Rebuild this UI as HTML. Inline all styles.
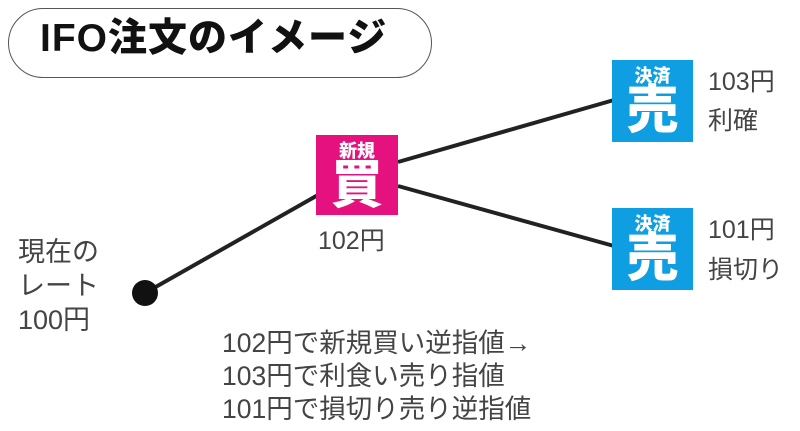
<!DOCTYPE html>
<html><head><meta charset="utf-8"><style>
body{margin:0;width:800px;height:431px;background:#fff;position:relative;overflow:hidden;font-family:"Liberation Sans","Noto Sans CJK JP",sans-serif;color:#444}
.t{position:absolute;white-space:nowrap;font-size:25px;line-height:1}
.pill{position:absolute;left:8px;top:8px;width:424px;height:70px;border:1.5px solid #555;border-radius:36px;box-sizing:border-box}
.title{position:absolute;left:40px;top:19px;font-weight:900;color:#111;letter-spacing:1px}
.box{position:absolute;color:#fff;text-align:center;font-weight:900}
.box .s{font-size:18px;margin-top:7px;line-height:1}
.box .b{font-size:52px;line-height:1;margin-top:0px}
</style></head><body>
<div class="pill"></div>
<div class="title t" style="font-size:39px">IFO注文のイメージ</div>
<svg width="800" height="431" style="position:absolute;left:0;top:0">
<g stroke="#222" stroke-width="4">
<line x1="145" y1="293" x2="318" y2="195"/>
<line x1="398" y1="162" x2="614" y2="100"/>
<line x1="398" y1="186" x2="614" y2="246"/>
</g>
<circle cx="145" cy="293" r="13" fill="#111"/>
</svg>
<div class="box" style="left:316px;top:135px;width:82px;height:80px;background:#e4117f"><div class="s">新規</div><div class="b">買</div></div>
<div class="box" style="left:612px;top:60px;width:81px;height:82px;background:#109ee2"><div class="s">決済</div><div class="b">売</div></div>
<div class="box" style="left:612px;top:208px;width:81px;height:82px;background:#109ee2"><div class="s">決済</div><div class="b">売</div></div>
<div class="t" style="left:318px;top:229px">102円</div>
<div class="t" style="left:708px;top:70px">103円</div>
<div class="t" style="left:708px;top:109px">利確</div>
<div class="t" style="left:708px;top:218px">101円</div>
<div class="t" style="left:708px;top:258px">損切り</div>
<div class="t" style="left:18px;top:235px;line-height:34px;font-size:27px">現在の<br>レート<br>100円</div>
<div class="t" style="left:222px;top:327px;line-height:33px;font-size:26.5px">102円で新規買い逆指値→<br>103円で利食い売り指値<br>101円で損切り売り逆指値</div>
</body></html>
